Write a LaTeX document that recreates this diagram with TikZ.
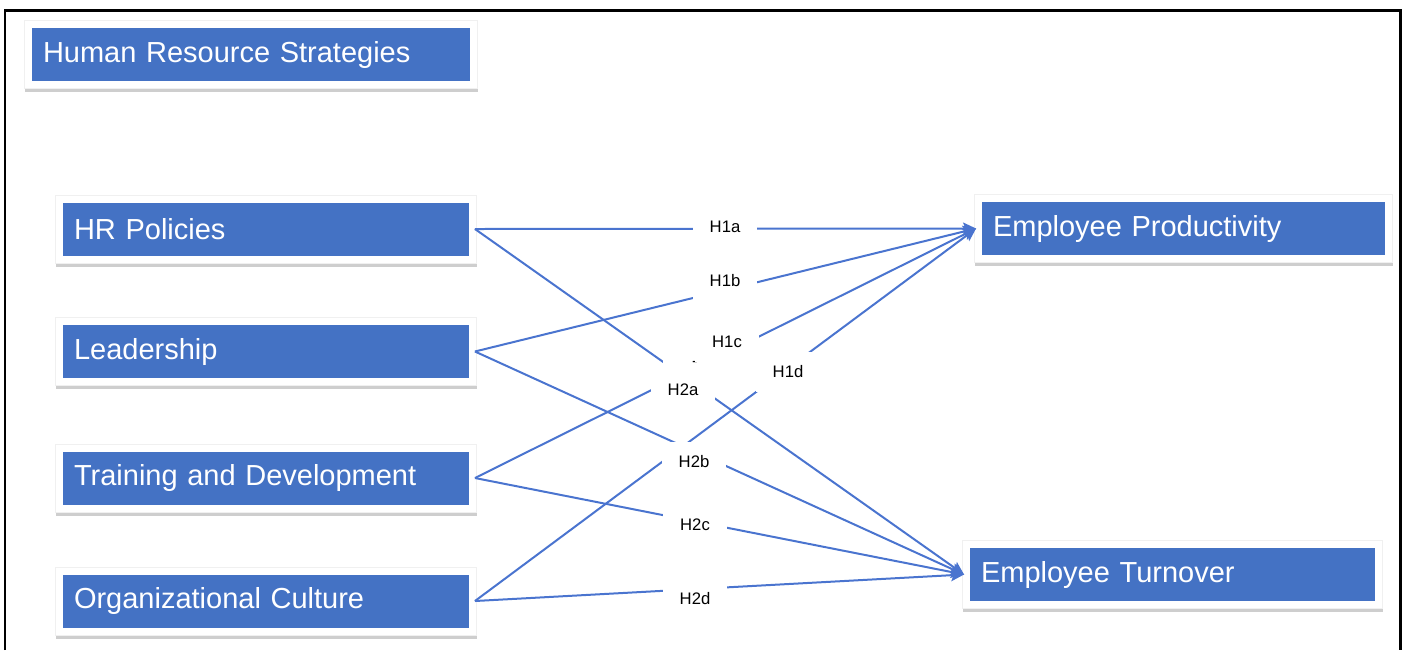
\documentclass[tikz,border=0pt]{standalone}
\usepackage{fontspec}
\setmainfont{Liberation Sans}
\usetikzlibrary{arrows.meta,fit,backgrounds,shadows}
\definecolor{hrblue}{HTML}{4472C4}
\definecolor{lnblue}{HTML}{4A74CF}
\tikzset{
  factor/.style={fill=hrblue, text=white, align=left, minimum height=1.06cm, inner xsep=0.22cm, inner ysep=0pt, outer sep=0.12cm, font=\fontsize{16.5}{19}\selectfont},
  card/.style={fill=white, draw=black!6, inner sep=0.03cm, drop shadow={shadow xshift=0.01cm, shadow yshift=-0.07cm, opacity=0.35, fill=black!55}},
  hyp/.style={fill=white, minimum width=1.28cm, minimum height=0.8cm, inner sep=0pt, font=\fontsize{9.5}{11}\selectfont},
  link/.style={lnblue, line width=0.04cm, -{Stealth[length=0.26cm, width=0.24cm, inset=0.05cm]}},
}

\begin{document}
\begin{tikzpicture}[x=0.02cm, y=-0.02cm]
  \useasboundingbox (0,0) rectangle (1408,650);
  % frame
  \draw[line width=0.06cm] (5,650) -- (5,10) -- (1400,10) -- (1400,650);

  % factors
  \node[factor, text width=8.32cm] (hrs) at (251,54.5) {Human Resource Strategies};
  \foreach \y/\name/\txt in {229/hrp/HR Policies, 351.5/lead/Leadership,
      478/train/Training and Development, 601/culture/Organizational Culture}
    \node[factor, text width=7.68cm] (\name) at (266,\y) {\txt};
  \node[factor, text width=7.62cm] (prod) at (1183.5,228.5) {Employee Productivity};
  \node[factor, text width=7.66cm] (turn) at (1172.5,574.5) {Employee Turnover};

  \begin{scope}[on background layer]
    \foreach \n in {hrs,hrp,lead,train,culture,prod,turn}
      \node[card, fit=(\n)] {};
  \end{scope}

  % hypotheses
  \foreach \s/\t in {hrp/prod, lead/prod, train/prod, culture/prod,
      hrp/turn, lead/turn, train/turn, culture/turn}
    \draw[link] (\s.east) -- (\t.west);

  \node[hyp] (dash) at (695,364) {-};
  \foreach \lbl/\x/\y in {H1a/725/227, H1b/725/281, H1c/727/342, H1d/788/372,
      H2a/683/390, H2b/694/462, H2c/695/525, H2d/695/599}
    \node[hyp] (\lbl) at (\x,\y) {\lbl};
\end{tikzpicture}
\end{document}
